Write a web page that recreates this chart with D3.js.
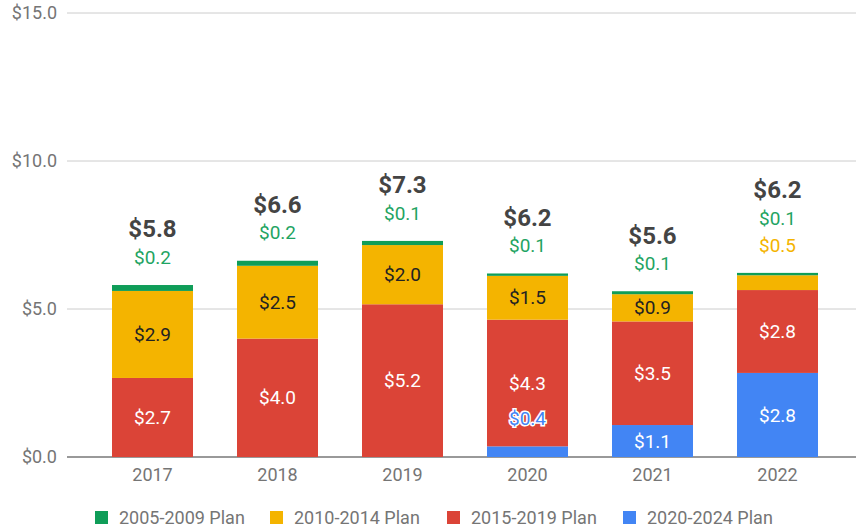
<!DOCTYPE html>
<html>
<head>
<meta charset="utf-8">
<script src="https://cdn.jsdelivr.net/npm/d3@7"></script>
<style>
  body { margin: 0; background: #fff; }
  text { font-family: Roboto, "Noto Sans", sans-serif; }
</style>
</head>
<body>
<div id="chart"></div>
<script>
// dados
const years = ["2017", "2018", "2019", "2020", "2021", "2022"];
const plans = ["2005-2009 Plan", "2010-2014 Plan", "2015-2019 Plan", "2020-2024 Plan"];
const plan0509 = [0.20, 0.17, 0.14, 0.08, 0.10, 0.08];
const plan1014 = [2.94, 2.46, 2.00, 1.48, 0.92, 0.50];
const plan1519 = [2.67, 4.00, 5.16, 4.28, 3.50, 2.80];
const plan2024 = [0.00, 0.00, 0.00, 0.36, 1.08, 2.84];
const yTicks = [0, 5, 10, 15];

const colors = ["#0f9d58", "#f4b400", "#db4437", "#4285f4"];
const outsideColors = ["#1fa463", "#f4b400"];

const width = 856, height = 527;
const margin = { top: 13, right: 0, bottom: 70, left: 67 };

const svg = d3.select("#chart").append("svg")
    .attr("width", width)
    .attr("height", height);

const rows = years.map((y, i) => ({
    year: y,
    p0: plan0509[i], p1: plan1014[i], p2: plan1519[i], p3: plan2024[i]
}));
// empilha de baixo para cima: azul, vermelho, amarelo, verde
const stack = d3.stack().keys(["p3", "p2", "p1", "p0"]);
const series = stack(rows);

const x = d3.scaleBand()
    .domain(years)
    .range([74.5, 855.5])
    .paddingInner(0.352)
    .paddingOuter(0.3);

const y = d3.scaleLinear()
    .domain([0, 15])
    .range([height - margin.bottom, margin.top]);

const fmt = d3.format("$.1f");

// grade
svg.append("g").selectAll("line")
    .data(yTicks)
    .enter().append("line")
    .attr("x1", margin.left).attr("x2", width)
    .attr("y1", d => y(d)).attr("y2", d => y(d))
    .attr("stroke", d => d === 0 ? "#777" : "#ccc")
    .attr("stroke-width", d => d === 0 ? 1.5 : 1);

svg.append("g").selectAll("text")
    .data(yTicks)
    .enter().append("text")
    .attr("x", 57)
    .attr("y", d => y(d))
    .attr("dy", "0.35em")
    .attr("text-anchor", "end")
    .attr("fill", "#757575")
    .style("font-size", "18px")
    .text(d => fmt(d));

// barras
const colorOf = { p0: colors[0], p1: colors[1], p2: colors[2], p3: colors[3] };
svg.append("g").selectAll("g")
    .data(series)
    .enter().append("g")
    .attr("fill", s => colorOf[s.key])
    .selectAll("rect")
    .data(s => s)
    .enter().append("rect")
    .attr("x", d => x(d.data.year))
    .attr("width", x.bandwidth())
    .attr("y", d => y(d[1]))
    .attr("height", d => Math.max(0, y(d[0]) - y(d[1])));

// rótulos dentro das barras
const inside = [];
series.forEach(s => {
    s.forEach(d => {
        const v = d[1] - d[0];
        const h = y(d[0]) - y(d[1]);
        if (v <= 0) return;
        if (h >= 20) inside.push({ key: s.key, year: d.data.year, v: v, mid: (d[0] + d[1]) / 2 });
    });
});

const lbl = svg.append("g");
inside.forEach(d => {
    lbl.append("text")
        .attr("x", x(d.year) + x.bandwidth() / 2)
        .attr("y", y(d.mid))
        .attr("dy", "0.35em")
        .attr("text-anchor", "middle")
        .attr("fill", d.key === "p1" ? "#222" : "#fff")
        .style("font-size", "19px")
        .text(fmt(d.v));
});

// 2020: rótulo azul pequeno desenhado por cima do vermelho
rows.forEach(r => {
    const h = y(0) - y(r.p3);
    if (r.p3 > 0 && h < 20) {
        lbl.append("text")
            .attr("x", x(r.year) + x.bandwidth() / 2)
            .attr("y", y(r.p3) - 28)
            .attr("dy", "0.35em")
            .attr("text-anchor", "middle")
            .attr("fill", colors[3])
            .attr("stroke", "#fff")
            .attr("stroke-width", 3)
            .attr("paint-order", "stroke")
            .style("font-size", "19px")
            .text(fmt(r.p3));
    }
});

// rótulos acima das barras
rows.forEach(r => {
    const total = r.p0 + r.p1 + r.p2 + r.p3;
    const cx = x(r.year) + x.bandwidth() / 2;
    let yy = y(total) - 28;
    const above = [];
    if (y(r.p3 + r.p2) - y(r.p3 + r.p2 + r.p1) < 20) above.push({ v: r.p1, c: outsideColors[1] });
    above.push({ v: r.p0, c: outsideColors[0] });
    above.forEach(a => {
        svg.append("text")
            .attr("x", cx).attr("y", yy)
            .attr("dy", "0.35em")
            .attr("text-anchor", "middle")
            .attr("fill", a.c)
            .style("font-size", "19px")
            .text(fmt(a.v));
        yy -= 27;
    });
    svg.append("text")
        .attr("x", cx).attr("y", yy - 1)
        .attr("dy", "0.35em")
        .attr("text-anchor", "middle")
        .attr("fill", "#444")
        .style("font-size", "24px")
        .style("font-weight", "bold")
        .text(fmt(total));
});

// eixo x
svg.append("g").selectAll("text")
    .data(years)
    .enter().append("text")
    .attr("x", d => x(d) + x.bandwidth() / 2)
    .attr("y", y(0) + 18)
    .attr("dy", "0.35em")
    .attr("text-anchor", "middle")
    .attr("fill", "#757575")
    .style("font-size", "18px")
    .text(d => d);

// legenda
const legX = [95, 270, 447, 623];
const leg = svg.append("g");
plans.forEach((p, i) => {
    leg.append("rect")
        .attr("x", legX[i]).attr("y", 511)
        .attr("width", 13).attr("height", 13)
        .attr("fill", colors[i]);
    leg.append("text")
        .attr("x", legX[i] + 24).attr("y", 518)
        .attr("dy", "0.35em")
        .attr("fill", "#757575")
        .style("font-size", "18px")
        .text(p);
});
</script>
</body>
</html>
